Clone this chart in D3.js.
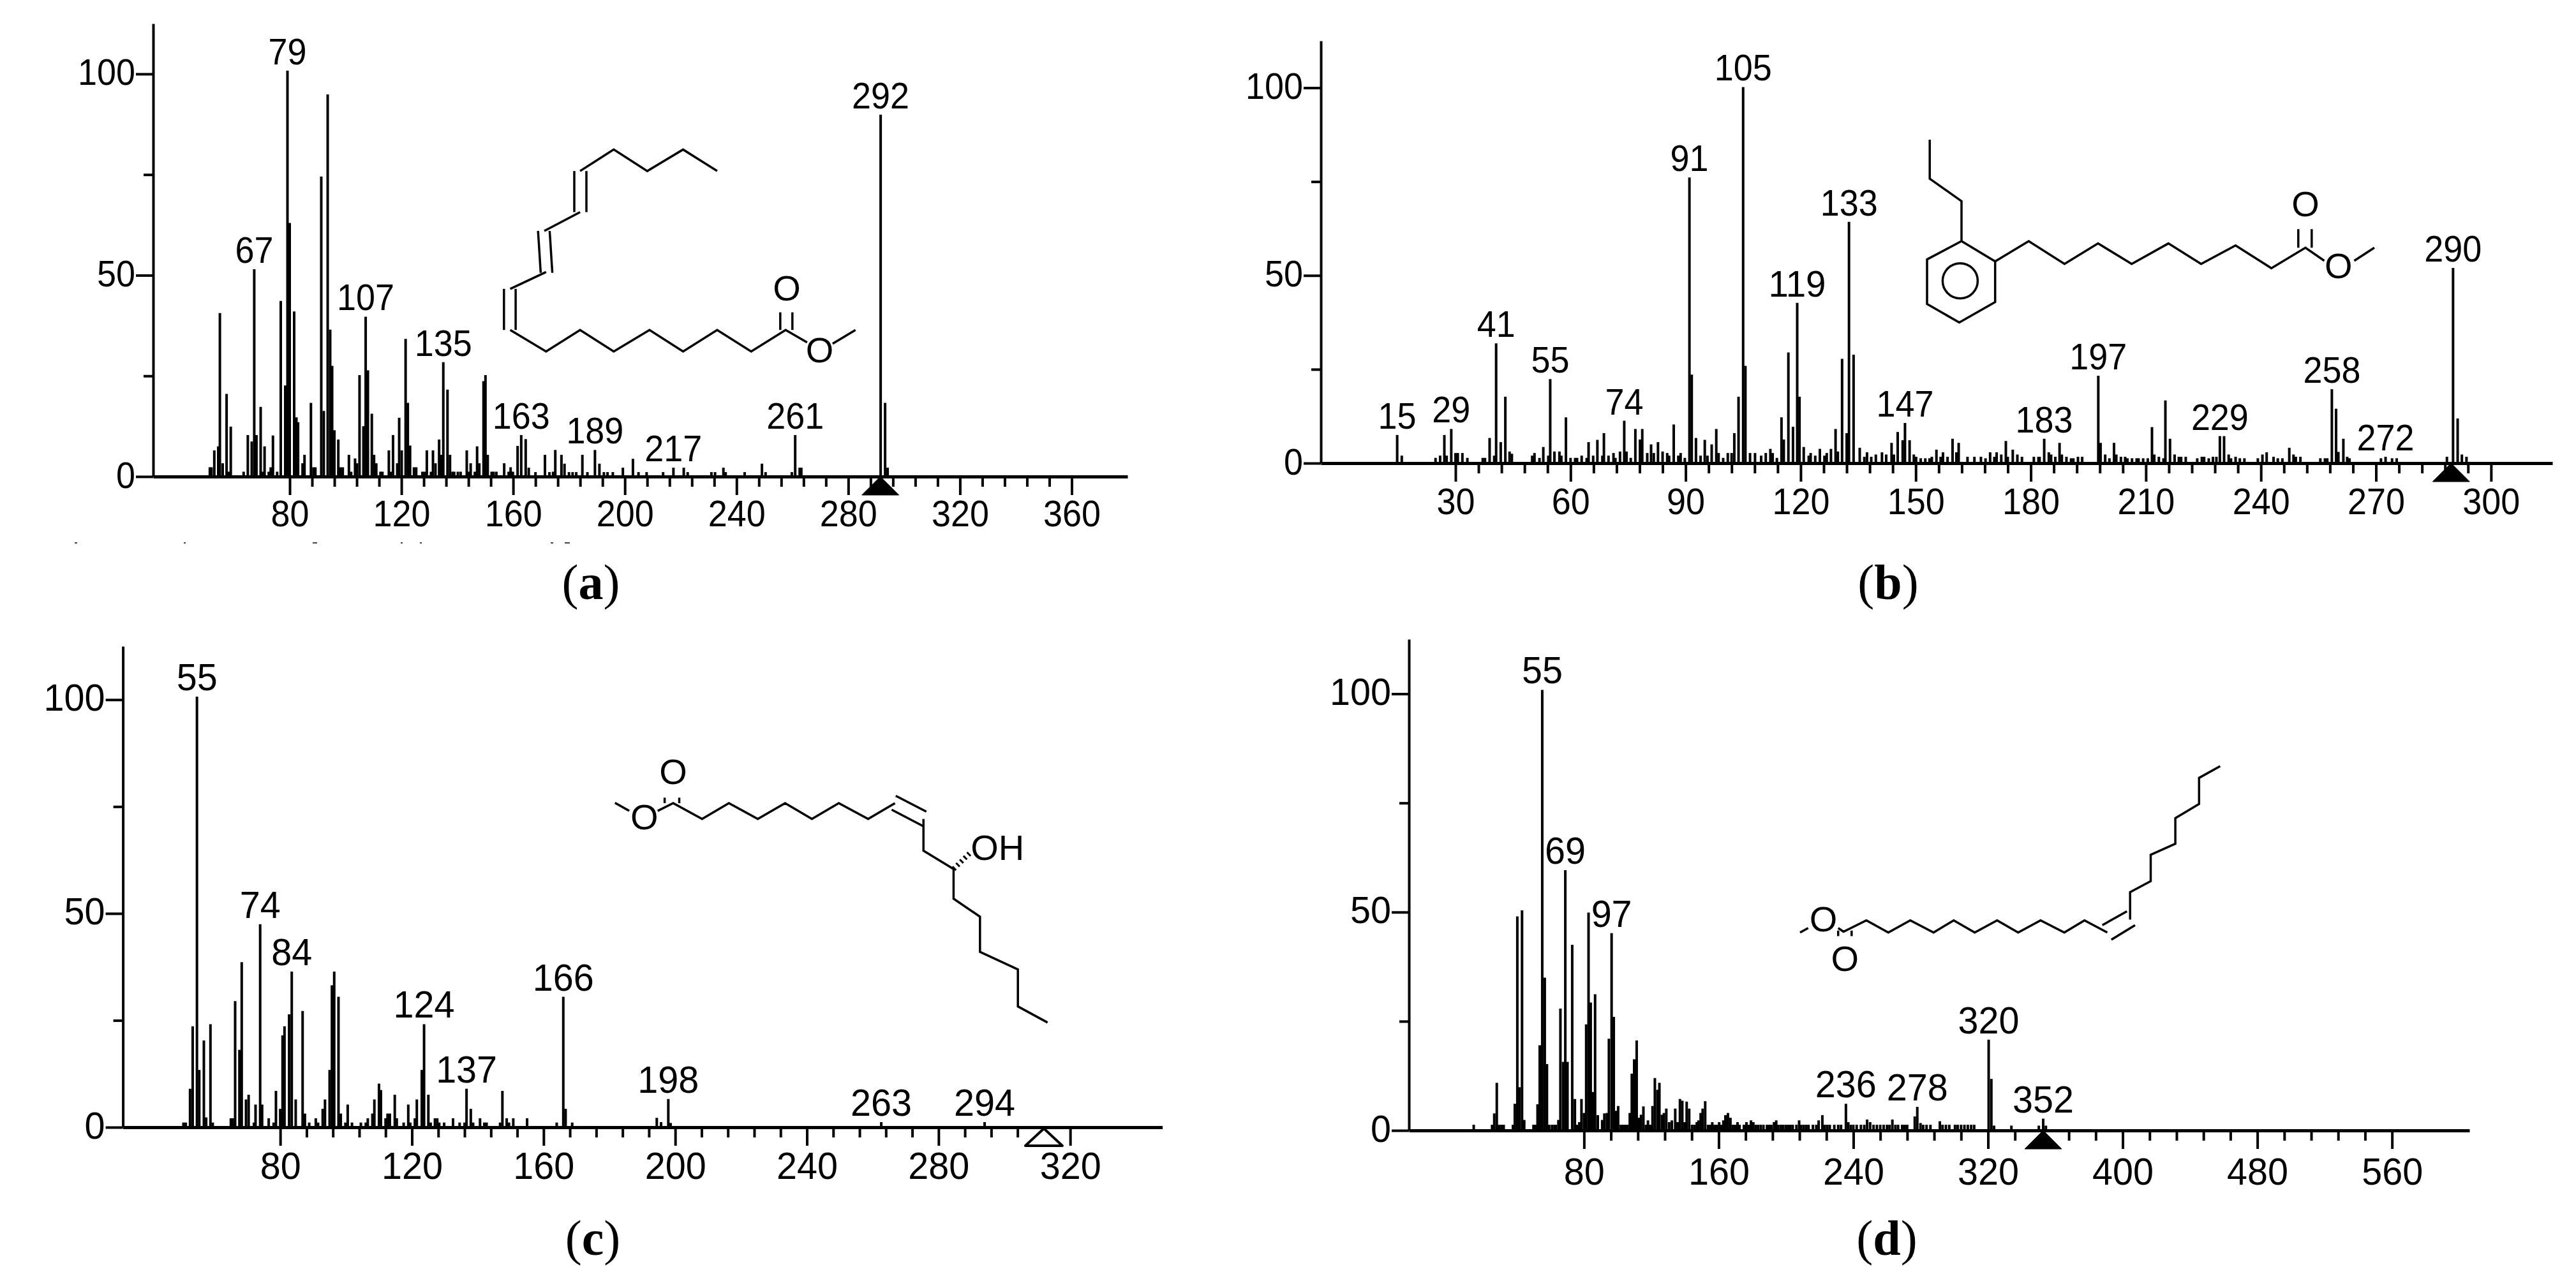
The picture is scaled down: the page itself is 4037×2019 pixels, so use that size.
<!DOCTYPE html>
<html>
<head>
<meta charset="utf-8">
<script src="https://cdn.jsdelivr.net/npm/d3@7"></script>
<style>
  body { margin: 0; background: #fff; }
  text { font-family: "Liberation Sans", Arial, sans-serif; fill: #000; }
  .caption { font-family: "Liberation Serif", "Times New Roman", serif; }
</style>
</head>
<body>
<div class="canvas"></div>
<script>
// peak m/z and relative intensity
const mzA = [
  51.4,52,53,54.4,55,56,57.4,58.2,58.9,
  63.5,65,66.4,67.3,68.1,69.6,70.4,71,72.5,73.2,74,75.5,
  76.8,78.4,79.2,80,81.6,82.4,83,84.6,85.3,87.6,88.5,89.2,
  91.3,92.2,93.6,94.5,95.2,96,97.4,98.2,99,101.2,102,103.4,104.1,
  105,106.4,107.2,108,109.4,110.2,111,112.5,113.2,115.5,116.3,117,118.5,119.2,120.1,
  121.5,122.3,123.1,124.5,125.3,127.5,128.3,129.1,130.6,131.3,132.2,133.5,134.3,135,
  136.5,137.4,138.3,138.9,140.2,141.2,143.4,144.1,144.8,146.3,147.1,147.9,149.4,150.1,150.9,
  152.3,153,154,156.8,158.4,159.1,159.9,161.6,162.9,164.5,165.6,168,171.4,173,174.3,175.1,
  177.3,178.4,180,181.3,182.6,184.8,186.6,189.3,190.9,192.5,193.8,195.7,199.3,202.9,204.9,207.8,
  213.7,217.4,221.1,222.5,231,232.3,235.3,236.1,242.9,249.1,250.4,259.8,261,262.6,263.2,291.6,293.2,294.1
];
const intA = [
  2.3,2.3,6.5,7.5,40.6,3.3,20.5,1.2,12.4,
  1.2,10.3,8.7,51.5,10.3,17.3,1.2,7.5,1.2,2.3,10.2,1.2,
  43.6,22.6,100.8,63,41,14.7,13.5,3.3,5.4,18.3,2.3,2.3,
  74.5,16.3,94.9,36.5,27.5,11.5,9.2,2.3,2.3,5.4,1.2,4.5,3.3,
  25.2,12.5,39.7,26.4,15.6,5.4,3.3,1.2,1.2,6.5,1.2,10.3,3.3,14.6,6.5,
  34.2,18.3,7.7,2.3,2.3,1.2,1.2,6.5,1.2,6.5,3.3,9.2,5.4,28.4,
  21.6,5.4,1.2,1.2,1.2,1.2,6.5,1.2,3.3,1.2,7.5,3.3,23.7,25.2,5.4,
  1.2,1.2,1.2,3.3,1.2,2.3,1.2,7.6,10.3,9.3,2.2,1.1,5.4,1.1,1.2,6.6,
  5.4,3.2,1.1,1.1,1.1,5.4,1.1,6.6,3.2,1.1,1.1,1.1,2.2,4.4,1.1,1.1,
  1.1,2.2,2.2,1.1,1.1,1.1,2.2,1.1,1.1,3.2,1.1,1.1,10.3,2.2,2.2,89.9,18.3,2.2
];
const labelsA = [67, 79, 107, 135, 163, 189, 217, 261, 292];

const mzB = [
  14.8,16,24.8,26,27.1,27.7,28.9,30,30.6,31.8,33.1,37.1,37.7,38.9,40.1,40.6,41.8,43,44.1,44.7,
  50,50.6,51.9,52.9,54.2,54.7,55.8,57.1,57.6,58.8,60,61.2,61.7,62.9,64.2,64.7,65.9,67,68.3,68.7,69.9,
  71.2,71.7,72.9,74,74.6,75.7,76.9,78.1,78.7,80,81,81.7,82.8,84,85.2,85.7,86.9,88.1,88.7,89.8,
  91,91.6,92.7,93.9,95,95.7,96.8,98,98.6,99.8,101,102,102.7,103.8,105,105.6,106.8,108.1,109.7,110.9,
  112.1,112.7,113.8,115,115.6,116.8,118,119.1,119.7,120.8,122.1,122.6,123.8,125,126.2,126.8,127.9,129.1,129.7,
  130.8,132,132.6,133.8,135.4,136.6,137.3,138.4,139.6,141.2,142.3,143.7,144.3,145.3,146.6,147.2,148.4,149.5,150.1,
  151.3,152.5,153.6,154.2,155.4,156.5,157.1,158.3,159.6,160.6,161.2,163.5,165.3,167,168.2,169.4,170.5,171.1,172.3,173.5,174,
  175.3,176.5,177.7,180.8,182,182.3,183.5,184.7,185.3,186.4,187.5,188.1,189.3,190.5,191.1,192.3,193.4,
  197.6,198.2,199.4,200.5,201.7,202.3,203.5,204.6,205.2,206.4,207.6,208.1,209.3,210.5,211.6,212.2,213.4,214.6,215.1,216.3,217.5,218.6,219.2,220.4,
  223.4,224.6,225.2,226.4,227.5,228.4,229.3,230.4,231.6,232.2,233.4,234.5,235.7,239.2,240.4,241.5,243.3,244.4,245.6,247.4,248.5,249.1,250.3,
  255.5,256.7,257.3,258.5,259.6,260.2,261.5,262.5,263.1,271.3,272.5,274.2,275.4,288.5,290.1,291.3,292.4,293.6
];
const intB = [
  7.5,2,1.4,2,7.5,2,9.1,2.7,2.7,2.7,1.4,1.4,1.4,6.7,2,31.9,5.6,17.7,3.1,2.5,
  2,2.7,1.4,4.3,2,22.4,3.1,3.1,2,12.2,1.4,1.4,1.4,2,1.4,5.6,2,6.2,2,8,2,
  2.7,1.4,3.1,11.3,3.1,1.4,9.1,6.3,9.1,2.7,5,2.7,5.6,3.1,2.7,2,10.3,2,2.7,1.4,
  76.1,23.6,6.7,2,6.2,2,5,9.1,2.7,1.4,2.7,2.7,8,17.7,100.2,25.9,2.7,2.7,2,2.7,
  3.8,2.7,1.4,12.2,6.3,29.5,9.7,42.7,17.7,4.3,2,2.7,2,3.8,2,2.7,3.8,9.1,3.1,
  27.8,8,64.3,28.9,4.1,1.7,2.9,1.7,2.3,2.9,2.3,5.4,2.3,8.3,6.1,10.7,6.1,2.3,1.7,
  1.3,1.3,1.3,1.7,3.6,1.7,2.9,1.7,6.5,2.9,5.4,1.7,1.7,1.7,1.3,2.9,1.7,2.9,2.3,5.9,1.7,
  3.6,2.3,1.7,1.7,1.7,1.7,6.5,2.9,2.3,1.7,5.4,2.3,1.7,1.3,1.3,1.7,1.7,
  23.3,5.4,2.3,1.3,5.4,2.3,1.7,1.7,1.3,1.3,1.3,1.3,1.3,1.3,9.6,2.3,1.7,1.3,16.7,6.5,2.3,1.7,1.7,1.7,
  1.3,1.7,1.7,1.3,1.7,1.7,7.2,7.2,2.3,1.3,1.7,1.3,1.3,1.3,2.3,2.9,1.7,1.3,1.3,4.1,2.3,1.7,1.7,
  1.3,1.3,1.3,19.7,14.5,3,6.5,1.7,1.3,1.3,1.7,1.3,1.3,1.7,52,11.9,2.3,1.7
];
const labelsB = [15, 29, 41, 55, 74, 91, 105, 119, 133, 147, 183, 197, 229, 258, 272, 290];

const mzC = [
  50.6,51.3,52.6,53.4,54.7,55.4,56.8,57.5,58.8,59.5,
  65,65.6,66.3,67.6,68.3,69.6,70.4,72,72.5,73.9,74.5,76.5,78,78.7,
  80,80.7,81.3,82.7,83.5,84.7,86.8,87.5,88.8,90.8,91.5,92.9,93.6,95,95.7,96.4,97.7,98.4,99.8,
  100.5,101.8,104.5,106,106.6,108,108.6,110,110.6,112,112.6,113.3,114.8,115.4,117.5,118.9,119.5,
  120.9,121.5,123,123.7,125,125.7,127,127.7,128.3,129.8,132.5,134.5,136,136.6,137.9,138.6,
  140.7,142,142.7,146.8,147.5,148.8,149.5,150.8,155,164,166,166.7,168.7,
  194.4,195.7,197.9,198.6,262.6,294
];
const intC = [
  1.1,1.1,9,23.6,100.7,13.4,20.3,2.3,24.1,1.1,
  2.1,2.1,29.5,18.1,38.6,6.5,7.6,1.1,5.3,47.5,5.3,2.1,1.1,8.5,
  4.3,21.5,23.6,26.4,36.4,6.5,27.2,3.2,1.1,2.1,1.1,4.3,6.5,13.4,33.2,36.4,30.5,3.2,1.1,
  5.3,1.1,1.1,1.1,2.1,3.2,6.5,10.2,8.7,2.1,3.2,3.2,7.6,2.1,1.1,5.3,1.1,
  2.1,6.5,13.4,24.1,7.6,1.1,2.1,2.1,1.1,1.1,2.1,1.1,1.1,9,4.3,1.1,
  2.1,1.1,1.1,1.1,8.5,2.1,1.1,2.1,2.1,1.1,30.5,4.3,1.1,
  2.2,1.2,6.6,1,1.2,1.2
];
const labelsC = [55, 74, 84, 124, 137, 166, 198, 263, 294];

const mzD = [
  14.5,25.4,26.7,28.2,29.5,31,32.3,37.8,38.9,40.4,41.7,43.2,44.5,
  50,51.2,52.4,53.7,55.2,56.7,58,59.3,61,62.5,63.3,64.8,66,67.6,68.9,70.2,
  73,74.6,76,77.2,78.5,80,81.3,82.7,84,85.2,86.6,88.2,90.8,92.1,93.6,94.8,96.4,97.7,99.1,100.3,
  101.9,103.1,104.4,105.7,107.2,108.4,109.8,111.3,112.6,113.9,115.3,116.8,118,119.3,120.7,122.1,123.6,124.8,126.3,127.5,128.9,
  130.6,132.2,134.2,135.6,137,138.4,139.8,141,142.5,144.2,145.6,147,148,149.3,150.5,152,153.7,155,156.2,157.6,159,160.3,161.5,
  162.8,164,165.5,167,168.5,169.8,171.2,172.4,175,176.5,178,179.2,180.6,182,183.4,185,186.6,188.7,190,191.3,192.9,194.2,
  195.4,197,198.4,200,201.4,202.6,204,206.2,207.8,209,210.5,212,213.4,216,218,219.4,221.6,223,224.5,226,228.7,
  231,232.7,235.6,237,238.5,240,242,244.5,246.5,248.2,250,252,254,256,258,260,261.5,263.2,265,266.6,269,270.5,272,
  276.5,278,279.9,281.5,283.5,285.8,291.4,293,295,297,300.4,302,304,306,308,310,311.8,320.4,322,323.6,333.9,350.2,352.8,354.4
];
const intD = [
  1.3,1.3,3.9,10.9,1.3,1.3,1.3,1.3,6.1,49,9.9,50.4,2.4,
  1.3,1.3,6,19.5,100.9,35,15.2,1.3,1.3,1.3,1.3,2.4,27.9,15.7,59.6,15.7,
  42.5,7.2,1.3,1.9,7.2,4,24.3,49.9,29.3,8.8,31.2,3.5,2.4,3.9,4,21,45.2,26,4.5,5.6,
  1.3,1.3,1.3,1.3,4,13,16.3,20.6,2.9,3.6,5.5,1.3,2.3,1.3,5.6,12,9.3,10.9,3.6,4,5,
  1.9,2.3,5,1.9,7.2,6.8,1.9,6.6,5,1.3,1.3,1.9,2.3,4,5,6.7,1.3,1.3,1.9,1.3,1.3,1.9,1.3,
  2.3,3.5,4,2.9,1.3,1.3,1.9,1.3,1.3,1.9,1.3,2.3,1.9,1.3,1.3,1.3,1.3,1.3,1.3,1.3,1.9,2.3,
  1.3,1.3,1.3,1.3,1.3,1.3,1.3,1.3,2.3,1.3,1.3,1.3,1.3,1.3,1.3,2.3,3.5,1.3,1.3,1.3,1.3,
  1.3,1.3,6.1,1.9,1.3,1.3,1.3,1.3,1.3,2.5,1.9,1.3,1.3,1.3,1.3,1.3,1.3,2.5,1.3,1.3,1.3,1.3,1.3,
  3.2,5.4,1.7,1.3,1.3,1.3,2.1,1.3,1.3,1.3,1.3,1.3,1.3,1.3,1.3,1.3,1.3,20.8,11.8,1.1,1.1,1.1,2.7,1.1
];
const labelsD = [55, 69, 97, 236, 278, 320, 352];

const yMajor = [0, 50, 100];
const yMinor = [25, 75];

const panels = [
  { mz: mzA, int: intA, labels: labelsA, major: [80,120,160,200,240,280,320,360], step: 8, parent: 291.5, open: false,
    xDomain: [31.1, 380], xRange: [240, 1767], yRange: [747, 37], fs: 57, tl: 30, lab: 78 },
  { mz: mzB, int: intB, labels: labelsB, major: [30,60,90,120,150,180,210,240,270,300], step: 6, parent: 289.6, open: false,
    xDomain: [-5.1, 316], xRange: [2070, 4000], yRange: [726, 64], fs: 57, tl: 30, lab: 80 },
  { mz: mzC, int: intC, labels: labelsC, major: [80,120,160,200,240,280,320], step: 8, parent: 312, open: true,
    xDomain: [32.2, 348], xRange: [192.6, 1821.6], yRange: [1767, 1013], fs: 60, tl: 32, lab: 81 },
  { mz: mzD, int: intD, labels: labelsD, major: [80,160,240,320,400,480,560], step: 16, parent: 352.8, open: false,
    xDomain: [-24, 606], xRange: [2208, 3870], yRange: [1772, 1002], fs: 60, tl: 32, lab: 85 }
];

// structure drawings, in picture pixels
const bonds = [
  // a
  [[799.6,517.2],[855.8,550.9],[909.1,517.2],[961.8,550.9],[1017.9,517.2],[1070.5,550.9],[1123.9,517.2],[1177.2,550.9],[1231.2,517.2],[1264.9,536.8]],
  [[1304.9,538.7],[1340.7,517.2]], [[1222.8,517.2],[1222.8,489.6]], [[1241.8,517.2],[1241.8,489.6]],
  [[789.8,517.2],[789.8,452.8]], [[808.1,517.2],[808.1,452.8]], [[799.6,452.8],[855.8,426.4]],
  [[843.2,362],[847.4,427.6]], [[861.4,362],[865.6,427.6]], [[853,362],[909.1,332.5]],
  [[900,268.1],[900,332.5]], [[919,268.1],[919,332.5]],
  [[909.1,268.1],[961.8,234.4],[1014.4,268.1],[1070.5,234.4],[1123.9,268.1]],
  // b
  [[3024.2,218.9],[3024.2,280.1],[3074,315.3],[3074,378]],
  [[3074,378],[3126.7,409.7],[3126.7,473.5],[3070.5,505.6],[3020,476.5],[3020,406.6],[3074,378]],
  [[3126.7,409.7],[3179.3,378],[3235.4,413.8],[3288,381.6],[3340.7,413.8],[3398.2,381.6],[3449.5,413.8],[3503.5,384.7],[3559.6,420.4],[3613,388.3],[3642.5,408.7]],
  [[3689.5,408.7],[3721,388.3]], [[3601.8,388.3],[3601.8,359.2]], [[3622.8,388.3],[3622.8,359.2]],
  // c
  [[963.8,1258.4],[986.1,1271.1]],
  [[1030.7,1271.1],[1055,1259],[1100.3,1283.7],[1142.3,1259],[1187.6,1283.7],[1230.4,1259],[1272.4,1283.7],[1314.5,1259],[1360.5,1283.7],[1402.6,1259]],
  [[1397.4,1269.3],[1447.2,1295.2]], [[1403.8,1247.5],[1451.7,1272.2]],
  [[1447.2,1283.7],[1447.2,1333.6],[1494.4,1362.3],[1494.4,1408.8],[1535.8,1437],[1535.8,1492.1],[1595.2,1519.6],[1595.2,1577.6],[1641.7,1602.9]],
  [[1041.6,1259],[1041.6,1250.4]], [[1064.5,1259],[1064.5,1250.4]],
  // d
  [[2821,1461.7],[2833.7,1454.8]],
  [[2880.7,1454.8],[2889.1,1460.5],[2924.9,1442.7],[2959.3,1461.7],[2993.7,1442.7],[3030.2,1461.7],[3061.8,1442.7],[3094.7,1461.7],[3129.8,1442.7],[3162.8,1461.7],[3197.9,1442.7],[3235.1,1461.7],[3266.7,1442.7],[3302.5,1461.7]],
  [[3294.7,1450.2],[3333.3,1428.4]], [[3308.8,1473.1],[3346,1450.2]],
  [[3338.2,1441.6],[3338.2,1398.5],[3370.5,1381.3],[3370.5,1340],[3409.1,1322.7],[3409.1,1282.6],[3446.3,1260.2],[3446.3,1219.4],[3479.3,1201]],
  [[2880.7,1458.8],[2880.7,1467.4]], [[2901.8,1458.8],[2901.8,1467.4]]
];
const atoms = [
  { t: "O", x: 1233, y: 451 }, { t: "O", x: 1284.6, y: 548 },
  { t: "O", x: 3664.9, y: 416.3 }, { t: "O", x: 3613, y: 319.4 },
  { t: "O", x: 1009.7, y: 1279.7 }, { t: "O", x: 1055, y: 1209.1 }, { t: "OH", x: 1563.3, y: 1327.9 },
  { t: "O", x: 2857.5, y: 1440.4 }, { t: "O", x: 2891.2, y: 1501.8 }
];
const captions = [
  { letter: "a", x: 926, y: 939 }, { letter: "b", x: 2959, y: 939 },
  { letter: "c", x: 929, y: 1967 }, { letter: "d", x: 2957, y: 1967 }
];
// clipped remains of a line of text under panel a
const fragments = [[117,4],[288,3],[490,7],[628,3],[658,3],[863,4],[885,8]];

const svg = d3.select(".canvas").append("svg")
    .attr("width", 4037)
    .attr("height", 2019)
    .style("display", "block");
svg.append("rect").attr("width", 4037).attr("height", 2019).attr("fill", "#fff");

panels.forEach(p => {
    const x = d3.scaleLinear().domain(p.xDomain).range(p.xRange);
    const y = d3.scaleLinear().domain([0, 112.5]).range(p.yRange);
    const y0 = y(0);
    const g = svg.append("g");
    const peaks = d3.zip(p.mz, p.int);

    // peaks
    g.append("g").selectAll("line")
        .data(peaks)
        .enter().append("line")
        .attr("x1", d => x(d[0]))
        .attr("x2", d => x(d[0]))
        .attr("y1", y0)
        .attr("y2", d => y(d[1]))
        .attr("stroke", "#000")
        .attr("stroke-width", 4);

    // x axis, minor ticks first then the labelled ones
    const minor = d3.range(p.major[0], p.major[p.major.length - 1], p.step)
        .filter(v => !p.major.includes(v));
    g.append("g")
        .attr("transform", `translate(0,${y0})`)
        .call(d3.axisBottom(x).tickValues(minor).tickSize(16).tickSizeOuter(0).tickFormat(""))
        .call(a => a.select(".domain").attr("stroke-width", 5));
    const xAxis = g.append("g")
        .attr("transform", `translate(0,${y0})`)
        .call(d3.axisBottom(x).tickValues(p.major).tickSize(29).tickSizeOuter(0).tickFormat(d3.format("d")));
    xAxis.select(".domain").remove();
    xAxis.selectAll("text")
        .attr("y", p.lab)
        .attr("dy", 0);

    // y axis
    g.append("g")
        .attr("transform", `translate(${p.xRange[0]},0)`)
        .call(d3.axisLeft(y).tickValues(yMinor).tickSize(15).tickSizeOuter(0).tickFormat(""))
        .call(a => a.select(".domain").attr("stroke-width", 4));
    const yAxis = g.append("g")
        .attr("transform", `translate(${p.xRange[0]},0)`)
        .call(d3.axisLeft(y).tickValues(yMajor).tickSize(27).tickPadding(1).tickFormat(d3.format("d")));
    yAxis.select(".domain").remove();
    yAxis.selectAll("text").attr("dy", 17);

    g.selectAll(".tick line").attr("stroke", "#000").attr("stroke-width", 4);
    g.selectAll(".tick text")
        .attr("font-size", p.fs)
        .attr("font-family", null)
        .attr("textLength", function() { return this.textContent.length * p.tl; })
        .attr("lengthAdjust", "spacingAndGlyphs");

    // peak labels sit on the nearest listed peak
    g.append("g").selectAll("text")
        .data(p.labels)
        .enter().append("text")
        .attr("text-anchor", "middle")
        .attr("font-size", p.fs)
        .attr("textLength", d => String(d).length * p.tl)
        .attr("lengthAdjust", "spacingAndGlyphs")
        .each(function(d) {
            const peak = peaks[d3.leastIndex(peaks, q => Math.abs(q[0] - d))];
            d3.select(this).attr("x", x(peak[0])).attr("y", y(peak[1]) - 10);
        })
        .text(d => d);

    // molecular ion marker
    const tx = x(p.parent);
    g.append("path")
        .attr("d", d3.line()([[tx, y0 + (p.open ? 2 : 0)], [tx + 29, y0 + 29], [tx - 29, y0 + 29]]) + "Z")
        .attr("fill", p.open ? "#fff" : "#000")
        .attr("stroke", "#000")
        .attr("stroke-width", p.open ? 4 : 1)
        .attr("stroke-linejoin", "round");
});

// structures
const bondGroup = svg.append("g");
bondGroup.selectAll("path")
    .data(bonds)
    .enter().append("path")
    .attr("d", d3.line())
    .attr("fill", "none")
    .attr("stroke", "#000")
    .attr("stroke-width", 3.5)
    .attr("stroke-linejoin", "miter");
// hashed bond to OH in panel c
bondGroup.append("path")
    .attr("d", d3.line()([[1494.4,1362.3],[1521.8,1335.4]]))
    .attr("fill", "none")
    .attr("stroke", "#000")
    .attr("stroke-width", 8)
    .attr("stroke-dasharray", "3 5");
// aromatic ring in panel b
bondGroup.append("circle")
    .attr("cx", 3071.9)
    .attr("cy", 440.3)
    .attr("r", 27.5)
    .attr("fill", "none")
    .attr("stroke", "#000")
    .attr("stroke-width", 3.5);

svg.append("g").selectAll("text")
    .data(atoms)
    .enter().append("text")
    .attr("x", d => d.x)
    .attr("y", d => d.y + 20)
    .attr("text-anchor", "middle")
    .attr("font-size", 56)
    .text(d => d.t);

// panel captions
const cap = svg.append("g").selectAll("text")
    .data(captions)
    .enter().append("text")
    .attr("class", "caption")
    .attr("x", d => d.x)
    .attr("y", d => d.y)
    .attr("text-anchor", "middle")
    .attr("font-size", 78);
cap.append("tspan").text("(");
cap.append("tspan").attr("font-weight", "bold").text(d => d.letter);
cap.append("tspan").text(")");

svg.append("g").selectAll("rect")
    .data(fragments)
    .enter().append("rect")
    .attr("x", d => d[0])
    .attr("y", 850)
    .attr("width", d => d[1])
    .attr("height", 2)
    .attr("fill", "#444");
</script>
</body>
</html>
